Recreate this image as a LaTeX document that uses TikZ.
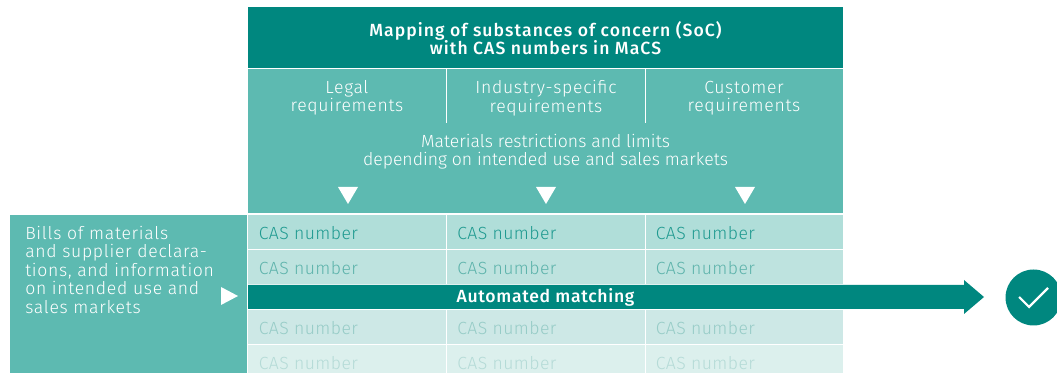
\documentclass[tikz,border=0pt]{standalone}
\usepackage{fontspec}
\newfontfamily\labelfont[LetterSpace=4]{Fira Sans Light}
\newfontfamily\plainfont{Fira Sans Light}
\newfontfamily\casfont[LetterSpace=2.5]{Fira Sans Light}
\newfontfamily\titlefont[LetterSpace=6]{Fira Sans Medium}
\newfontfamily\matchfont[LetterSpace=4]{Fira Sans Medium}
\usetikzlibrary{backgrounds}
\definecolor{tealdark}{HTML}{00877F}
\definecolor{tealmid}{HTML}{5DBAB1}
\definecolor{rowa}{HTML}{B0DED9}
\definecolor{rowb}{HTML}{BEE3DF}
\definecolor{rowc}{HTML}{CDE8E6}
\definecolor{rowd}{HTML}{DCF0ED}
\definecolor{casa}{HTML}{1F9A90}
\definecolor{casb}{HTML}{5DB3AB}
\definecolor{casc}{HTML}{97CCC7}
\definecolor{casd}{HTML}{B5DBD7}
\tikzset{
	labeltext/.style={text=white,align=center,font=\fontsize{13.2}{13.8}\labelfont,inner sep=0pt},
	casnumber/.style={anchor=west,inner sep=0pt,font=\fontsize{13.2}{13.8}\casfont},
	whitetip/.style={fill=white,draw=none}
}
\begin{document}
\begin{tikzpicture}[x=0.75pt,y=-0.75pt]
	\useasboundingbox (0,0) rectangle (1057,373);
	% header blocks
	\fill[color=tealdark] (248,7) rectangle (843,68);
	\fill[color=tealmid] (248,69) rectangle (843,213);
	\fill[color=tealmid] (10,215) rectangle (247,373);
	\draw[color=white,semithick] (446.5,69) -- (446.5,123);
	\draw[color=white,semithick] (645.5,69) -- (645.5,123);
	\node[labeltext,font=\fontsize{13.2}{13.8}\titlefont] (title) at (545.5,38) {Mapping of substances of concern (SoC)\\with CAS numbers in MaCS};
	\node[labeltext] (legal) at (347,98) {Legal\\requirements};
	\node[labeltext] (industry) at (546,98) {Industry-specific\\requirements};
	\node[labeltext] (customer) at (744,98) {Customer\\requirements};
	\node[labeltext,font=\fontsize{13.2}{13.8}\plainfont] (limits) at (545.5,151.5) {Materials restrictions and limits\\depending on intended use and sales markets};
	\node[labeltext,align=left,anchor=north west] (bills) at (25,226) {Bills of materials\\and supplier declara-\\tions, and information\\on intended use and\\sales markets};
	% table rows
	\foreach \top/\bot/\fillcol/\textcol in {215/249/rowa/casa,250/284/rowb/casb,310/344/rowc/casc,345/373/rowd/casd}{
		\fill[color=\fillcol] (248,\top) rectangle (446,\bot);
		\fill[color=\fillcol] (447,\top) rectangle (645,\bot);
		\fill[color=\fillcol] (646,\top) rectangle (843,\bot);
		\foreach \x in {258.5,457,655.5}
			\node[casnumber,text=\textcol] at (\x,\top+18) {CAS number};
	}
	% triangles
	\foreach \x in {348,546,745}
		\fill[whitetip] (\x-10,187) -- (\x+10,187) -- (\x,204) -- cycle;
	\fill[whitetip] (221,287) -- (238,296) -- (221,305) -- cycle;
	% matching arrow
	\fill[color=tealdark] (248,285) -- (964,285) -- (964,280) -- (984,297) -- (964,314) -- (964,309) -- (248,309) -- cycle;
	\node[labeltext,font=\fontsize{13.2}{13.8}\matchfont] (matching) at (545.5,297.5) {Automated matching};
	% check mark
	\node[circle,fill=tealdark,minimum size=42pt,inner sep=0pt] (done) at (1033.5,297.5) {};
	\draw[color=white,line width=1.6pt] (1019,297) -- (1029,307) -- (1048,288);
\end{tikzpicture}
\end{document}
